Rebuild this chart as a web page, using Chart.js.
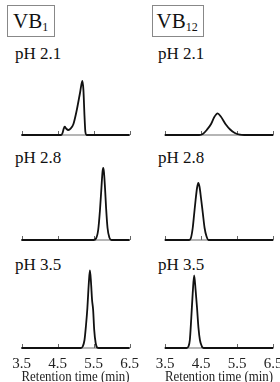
<!DOCTYPE html>
<html>
<head>
<meta charset="utf-8">
<script src="https://cdn.jsdelivr.net/npm/chart.js@4.4.1/dist/chart.umd.min.js"></script>
<style>
  body { margin: 0; width: 280px; height: 382px; overflow: hidden; position: relative; background: #fff; font-family: 'Liberation Serif', 'DejaVu Serif', serif; color: #111; }
  canvas { position: absolute; }
  .box { position: absolute; box-sizing: border-box; top: 5px; height: 32px; border: 1px solid #888; font-size: 21px; line-height: 30px; padding-left: 5px; }
  .box sub { font-size: 12px; vertical-align: -3px; line-height: 0; }
  .ph { position: absolute; font-size: 17px; line-height: 20px; white-space: nowrap; }
</style>
</head>
<body>
<div class="box" style="left:7px; width:48px">VB<sub>1</sub></div>
<div class="box" style="left:151.5px; width:52px; padding-left:4px">VB<sub>12</sub></div>
<div class="ph" style="left:15px; top:43.7px">pH 2.1</div>
<div class="ph" style="left:158px; top:43.7px">pH 2.1</div>
<div class="ph" style="left:15px; top:148.2px">pH 2.8</div>
<div class="ph" style="left:158px; top:148.2px">pH 2.8</div>
<div class="ph" style="left:15px; top:255.2px">pH 3.5</div>
<div class="ph" style="left:158px; top:255.2px">pH 3.5</div>

<canvas id="a" width="150" height="96" style="left:0; top:44px"></canvas>
<canvas id="b" width="150" height="96" style="left:140px; top:44px"></canvas>
<canvas id="c" width="150" height="96" style="left:0; top:148.5px"></canvas>
<canvas id="d" width="150" height="96" style="left:140px; top:148.5px"></canvas>
<canvas id="e" width="150" height="132" style="left:0; top:257px"></canvas>
<canvas id="f" width="150" height="132" style="left:140px; top:257px"></canvas>

<script>
// retention time axis
const tickValues = [3.5, 4.5, 5.5, 6.5]

// VB1 pH 2.1
const timeVB1_21 = [3.5, 4.6, 4.64, 4.67, 4.7, 4.74, 4.8, 4.87, 4.94, 5.03, 5.125, 5.19, 5.22, 5.25, 5.275, 5.31, 6.5]
const signalVB1_21 = [0, 0, 2, 6, 8.3, 6.5, 5, 6.7, 10.7, 24, 42, 54, 45, 19, 3, 0, 0]
// VB12 pH 2.1
const timeVB12_21 = [3.5, 4.45, 4.55, 4.66, 4.78, 4.87, 4.96, 5.05, 5.19, 5.31, 5.44, 5.58, 5.7, 6.5]
const signalVB12_21 = [0, 0, 1, 5, 11, 18, 21.7, 18.5, 10.5, 5.5, 2, 0.3, 0, 0]
// VB1 pH 2.8
const timeVB1_28 = [3.5, 5.5, 5.57, 5.63, 5.68, 5.72, 5.75, 5.77, 5.79, 5.82, 5.85, 5.89, 5.94, 6.0, 6.5]
const signalVB1_28 = [0, 0, 1.5, 10, 30, 52, 68, 72, 68, 52, 32, 12, 2.5, 0, 0]
// VB12 pH 2.8
const timeVB12_28 = [3.5, 4.17, 4.22, 4.27, 4.31, 4.35, 4.39, 4.425, 4.46, 4.5, 4.55, 4.6, 4.65, 4.71, 6.5]
const signalVB12_28 = [0, 0, 2, 12, 26, 40, 52, 57, 53, 42, 27, 12, 4, 0, 0]
// VB1 pH 3.5
const timeVB1_35 = [3.5, 5.15, 5.2, 5.25, 5.29, 5.33, 5.37, 5.4, 5.43, 5.46, 5.49, 5.52, 5.56, 5.6, 5.65, 6.5]
const signalVB1_35 = [0, 0, 1.5, 8, 22, 40, 65, 77.5, 66, 48, 38, 18, 5, 0.5, 0, 0]
// VB12 pH 3.5
const timeVB12_35 = [3.5, 4.1, 4.15, 4.19, 4.23, 4.27, 4.31, 4.35, 4.39, 4.43, 4.47, 4.52, 4.57, 6.5]
const signalVB12_35 = [0, 0, 1.5, 8, 30, 55, 72.5, 58, 40, 20, 8, 2, 0, 0]

// short tick marks pointing up from the baseline
const upTicks = {
  id: 'upTicks',
  beforeDatasetsDraw(chart) {
    const { ctx, chartArea } = chart
    const x = chart.scales.x
    ctx.save()
    ctx.strokeStyle = '#666'
    ctx.lineWidth = 1
    tickValues.forEach((v) => {
      const px = Math.round(x.getPixelForValue(v)) + 0.5
      ctx.beginPath()
      ctx.moveTo(px, chartArea.bottom)
      ctx.lineTo(px, chartArea.bottom - 4)
      ctx.stroke()
    })
    ctx.restore()
  },
}

function drawPanel(id, time, signal, right, bottomRow) {
  const data = time.map((t, i) => ({ x: t, y: signal[i] }))
  new Chart(document.getElementById(id), {
    type: 'line',
    data: {
      datasets: [
        {
          data: data,
          borderColor: '#111',
          borderWidth: 1.8,
          pointRadius: 0,
          cubicInterpolationMode: 'monotone',
          fill: false,
          clip: false,
        },
      ],
    },
    options: {
      responsive: false,
      animation: false,
      layout: {
        padding: {
          left: right ? 25 : 21.5,
          right: right ? 17 : 20.5,
          top: 1,
          bottom: bottomRow ? 0 : 5,
        },
      },
      scales: {
        x: {
          type: 'linear',
          min: 3.5,
          max: 6.5,
          afterBuildTicks: (s) => {
            s.ticks = tickValues.map((v) => ({ value: v }))
          },
          // fixed axis height so the chart area bottom lands on the baseline
          afterFit: (s) => {
            if (bottomRow) s.height = 41
          },
          grid: { display: false, drawTicks: false },
          border: { display: true, color: '#b5b5b5', width: 2 },
          ticks: {
            display: bottomRow,
            padding: 7.5,
            color: '#222',
            font: { family: 'Liberation Serif', size: 15 },
            callback: (v) => Number(v).toFixed(1),
          },
          title: {
            display: bottomRow,
            text: 'Retention time (min)',
            color: '#222',
            padding: { top: 0, bottom: 3 },
            font: { family: 'Liberation Serif', size: 14 },
          },
        },
        y: { display: false, min: 0, max: 90 },
      },
      plugins: { legend: { display: false }, tooltip: { enabled: false } },
    },
    plugins: [upTicks],
  })
}

drawPanel('a', timeVB1_21, signalVB1_21, false, false)
drawPanel('b', timeVB12_21, signalVB12_21, true, false)
drawPanel('c', timeVB1_28, signalVB1_28, false, false)
drawPanel('d', timeVB12_28, signalVB12_28, true, false)
drawPanel('e', timeVB1_35, signalVB1_35, false, true)
drawPanel('f', timeVB12_35, signalVB12_35, true, true)
</script>
</body>
</html>
